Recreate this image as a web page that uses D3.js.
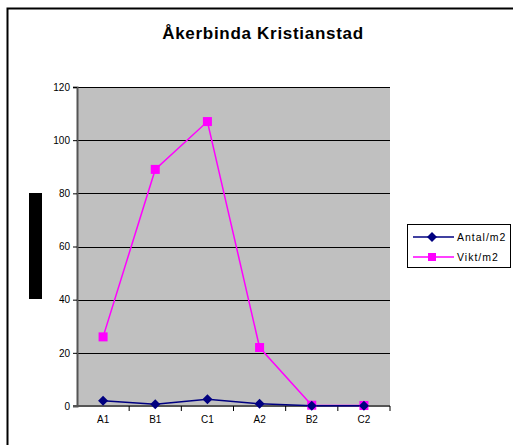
<!DOCTYPE html>
<html lang='sv'>
  <head>
    <meta charset='utf-8'>
    <script src='https://cdnjs.cloudflare.com/ajax/libs/d3/7.8.5/d3.min.js'></script>
    <style>
      body { margin: 0; background: #fff; }
      text { font-family: 'Liberation Sans', Arial, sans-serif; }
    </style>
  </head>
  <body>
    <script type='text/javascript'>

      // data
      var categories = ['A1', 'B1', 'C1', 'A2', 'B2', 'C2'];
      var antal = [2, 0.7, 2.5, 0.8, 0.1, 0.1];
      var vikt = [26, 89, 107, 22, 0.3, 0.2];
      var yTicks = [0, 20, 40, 60, 80, 100, 120];
      var seriesNames = ['Antal/m2', 'Vikt/m2'];

      var svgWidth = 513;
      var svgHeight = 445;

      var plotLeft = 77;
      var plotRight = 390;
      var plotTop = 87;
      var plotBottom = 406;

      var svg = d3.select('body').append('svg')
                  .attr('width', svgWidth)
                  .attr('height', svgHeight);

      // outer frame (only left and top edge visible)
      svg.append('path')
         .attr('d', 'M7.5,' + svgHeight + 'V8.5H' + svgWidth)
         .attr('fill', 'none')
         .attr('stroke', '#000')
         .attr('stroke-width', 2);

      // title
      svg.append('text')
         .text('Åkerbinda Kristianstad')
         .attr('x', 263)
         .attr('y', 39)
         .attr('text-anchor', 'middle')
         .style('font-size', '17px')
         .style('letter-spacing', '0.7px')
         .style('font-weight', 'bold');

      // black block where axis title was
      svg.append('rect')
         .attr('x', 29).attr('y', 193)
         .attr('width', 13).attr('height', 106)
         .attr('fill', '#000');

      // scales
      var xScale = d3.scaleBand()
                     .domain(categories)
                     .range([plotLeft, plotRight]);

      var yScale = d3.scaleLinear()
                     .domain([0, 120])
                     .range([plotBottom, plotTop]);

      // plot area
      svg.append('rect')
         .attr('x', plotLeft).attr('y', plotTop)
         .attr('width', plotRight - plotLeft)
         .attr('height', plotBottom - plotTop)
         .attr('fill', '#c0c0c0');

      // gridlines
      svg.append('g')
         .selectAll('line')
         .data(yTicks.slice(1))
         .enter().append('line')
         .attr('x1', plotLeft).attr('x2', plotRight)
         .attr('y1', function(d){ return Math.round(yScale(d)) + 0.5; })
         .attr('y2', function(d){ return Math.round(yScale(d)) + 0.5; })
         .attr('stroke', '#000')
         .attr('stroke-width', 1);

      // y axis
      var yAxis = d3.axisLeft(yScale)
                    .tickValues(yTicks)
                    .tickSize(4)
                    .tickPadding(3);

      var gy = svg.append('g')
                  .attr('transform', 'translate(' + plotLeft + ',0)')
                  .call(yAxis);
      gy.select('.domain').attr('stroke', '#555').attr('stroke-width', 2);
      gy.selectAll('.tick line').attr('stroke', '#000');
      gy.selectAll('text').style('font-size', '10px').attr('fill', '#000')
        .style('font-family', "'Liberation Sans', Arial, sans-serif");

      // x axis: ticks between categories
      var xAxis = d3.axisBottom(xScale).tickSize(0).tickPadding(10);
      var gx = svg.append('g')
                  .attr('transform', 'translate(0,' + plotBottom + ')')
                  .call(xAxis);
      gx.select('.domain').remove();
      gx.selectAll('text').style('font-size', '10px').attr('fill', '#000')
        .style('font-family', "'Liberation Sans', Arial, sans-serif");

      svg.append('line')
         .attr('x1', plotLeft - 4).attr('x2', plotRight)
         .attr('y1', plotBottom).attr('y2', plotBottom)
         .attr('stroke', '#555').attr('stroke-width', 2);

      svg.append('g')
         .selectAll('line')
         .data(categories)
         .enter().append('line')
         .attr('x1', function(d){ return xScale(d) + xScale.bandwidth(); })
         .attr('x2', function(d){ return xScale(d) + xScale.bandwidth(); })
         .attr('y1', plotBottom).attr('y2', plotBottom + 5)
         .attr('stroke', '#000');

      // lines
      var line = d3.line()
                   .x(function(d, i){ return xScale(categories[i]) + xScale.bandwidth() / 2; })
                   .y(function(d){ return yScale(d); });

      svg.append('path')
         .datum(vikt)
         .attr('d', line)
         .attr('fill', 'none')
         .attr('stroke', '#ff00ff')
         .attr('stroke-width', 1.5);

      svg.append('path')
         .datum(antal)
         .attr('d', line)
         .attr('fill', 'none')
         .attr('stroke', '#000080')
         .attr('stroke-width', 1.5);

      // markers
      svg.append('g')
         .selectAll('rect')
         .data(vikt)
         .enter().append('rect')
         .attr('x', function(d, i){ return xScale(categories[i]) + xScale.bandwidth() / 2 - 4.5; })
         .attr('y', function(d){ return yScale(d) - 4.5; })
         .attr('width', 9).attr('height', 9)
         .attr('fill', '#ff00ff');

      // diamond = square turned 45 degrees
      var diamond = d3.symbol().type(d3.symbolSquare).size(50);
      svg.append('g')
         .selectAll('path')
         .data(antal)
         .enter().append('path')
         .attr('d', diamond)
         .attr('transform', function(d, i){
           return 'translate(' + (xScale(categories[i]) + xScale.bandwidth() / 2) + ',' + yScale(d) + ') rotate(45)';
         })
         .attr('fill', '#000080');

      // legend
      var legend = svg.append('g');
      legend.append('rect')
            .attr('x', 407.5).attr('y', 224.5)
            .attr('width', 103).attr('height', 43)
            .attr('fill', '#fff')
            .attr('stroke', '#000');

      var legendColors = ['#000080', '#ff00ff'];
      seriesNames.forEach(function(name, i){
        var ly = 237 + i * 20;
        legend.append('line')
              .attr('x1', 413).attr('x2', 454)
              .attr('y1', ly).attr('y2', ly)
              .attr('stroke', legendColors[i])
              .attr('stroke-width', 1.5);
        if (i === 0) {
          legend.append('path')
                .attr('d', diamond)
                .attr('transform', 'translate(432,' + ly + ') rotate(45)')
                .attr('fill', legendColors[i]);
        } else {
          legend.append('rect')
                .attr('x', 428).attr('y', ly - 4)
                .attr('width', 8).attr('height', 8)
                .attr('fill', legendColors[i]);
        }
        legend.append('text')
              .text(name)
              .attr('x', 457)
              .attr('y', ly + 4)
              .style('font-size', '10.5px')
              .style('letter-spacing', '1px');
      });

    </script>
  </body>
</html>
